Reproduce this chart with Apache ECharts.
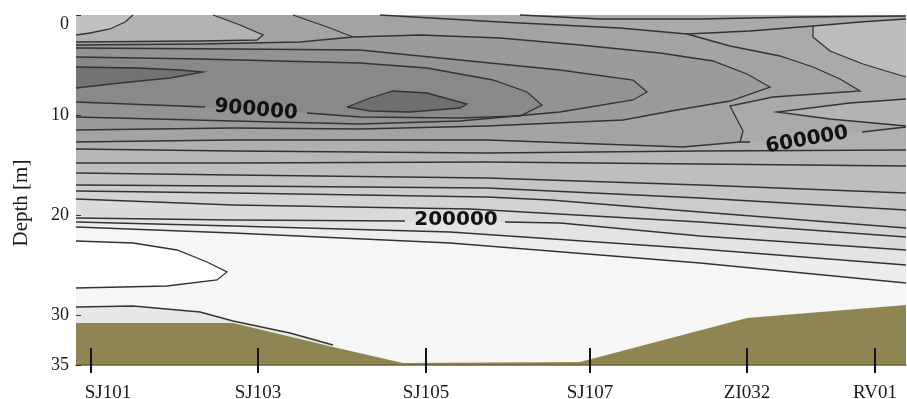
<!DOCTYPE html>
<html>
<head>
<meta charset="utf-8">
<script src="https://cdn.jsdelivr.net/npm/echarts@6/dist/echarts.min.js"></script>
<style>
  html, body { margin: 0; padding: 0; background: #fff; }
  #chart { width: 907px; height: 399px; }
</style>
</head>
<body>
<div id="chart"></div>
<script>
// Transect: distance along section (km) vs depth (m)
const stationNames = ['SJ101', 'SJ103', 'SJ105', 'SJ107', 'ZI032', 'RV01'];
const stationDist = [1.5, 18.2, 35.0, 51.4, 67.1, 79.9];
const depthTicks = [0, 10, 20, 30, 35];

const z1 = [[0, 21.2], [15.7, 21.8], [37.4, 22.8], [62.4, 24.8], [83, 26.8]];
const z2 = [[0, 20.7], [15.7, 21.1], [37.4, 21.7], [62.4, 23.4], [83, 25.0]];
const z3 = [[0, 20.3], [15.7, 20.5], [32.9, 20.6], null, [42.9, 20.7], [48.4, 20.8], [62.4, 22.1], [83, 23.5]];
const z4 = [[0, 18.4], [15.7, 19.0], [39.4, 19.4], [62.4, 20.7], [83, 22.2]];
const m1 = [[0, 17.6], [15.7, 17.8], [41.1, 18.2], [47.4, 18.5], [62.4, 19.7], [83, 21.3]];
const m2 = [[0, 17.0], [15.7, 17.1], [41.1, 17.3], [62.4, 18.3], [83, 19.5]];
const m3 = [[0, 15.8], [15.7, 16.0], [41.1, 16.3], [62.4, 17.0], [83, 17.8]];
const m4 = [[0, 14.8], [15.7, 14.8], [41.1, 14.7], [62.4, 14.9], [83, 15.1]];
const m5 = [[0, 13.4], [15.7, 13.6], [41.1, 13.8], [62.4, 13.6], [83, 13.5]];
const m6 = [[0, 12.7], [15.7, 12.5], [41.1, 12.5], [60.7, 13.2], [66.4, 12.7], [67.4, 12.7], null, [78.6, 11.7], [83, 11.2]];

const tongueA = [[30.4, 0], [42.4, 0.7], [54.4, 1.3], [61.1, 1.9], [65.4, 3.1], [70.4, 4.1], [73.7, 5.2],
  [76.4, 6.4], [78.4, 7.6], [69.7, 8.2], [65.4, 9.1], [66.7, 11.6], [66.4, 12.7]];
const surfU2 = [[61.1, 1.9], [67.4, 1.6], [73.7, 1.1]];
const surfU3 = [[44.4, 0], [52.4, 0.4], [62.4, 0.4], [72.4, 0.2], [83, 0.1]];
const trLow = [[73.7, 1.1], [73.7, 2.2], [75.4, 3.6], [78.7, 4.9], [83, 6.2]];
const trTop = [[73.7, 1.1], [78.4, 0.7], [83, 0.4]];
const rightLens = [[83, 8.4], [77.4, 8.8], [70.1, 9.7], [75.4, 10.4], [83, 11.1]];

const t1 = [[5.7, 0], [4.9, 0.7], [3.4, 1.4], [1.4, 1.8], [0, 2.0]];
const t2 = [[13.7, 0], [16.4, 1.0], [18.7, 2.0], [18.1, 2.5], [12.4, 2.6], [0, 2.7]];
const t3 = [[21.7, 0], [25.4, 1.3], [27.7, 2.2]];

const ringB = [[0, 3.0], [12.4, 2.9], [22.4, 2.7], [27.7, 2.2], [34.4, 2.0], [42.4, 2.3], [50.4, 3.0], [58.4, 3.8],
  [63.7, 4.6], [67.1, 5.9], [69.4, 7.2], [65.4, 8.6], [60.1, 9.5], [54.7, 10.5], [41.1, 11.1], [28.4, 11.4],
  [15.7, 11.3], [0, 11.5]];
const ringC = [[0, 3.3], [15.7, 3.4], [28.4, 3.5], [38.4, 4.5], [48.4, 5.5], [55.7, 6.5], [57.1, 7.7], [55.7, 8.5],
  [48.4, 9.7], [38.4, 10.6], [28.4, 10.9], [15.7, 10.6], [0, 10.2]];
const ringD = [[0, 4.2], [12.4, 4.4], [28.4, 4.8], [35.1, 5.3], [41.7, 6.5], [45.1, 7.7], [46.6, 9.0], [44.4, 10.1],
  [38.4, 10.3], [28.4, 10.2], [23.1, 9.8], null, [12.9, 9.2], [0, 8.7]];
const lensLeft = [[0, 5.2], [6.1, 5.3], [10.4, 5.5], [12.7, 5.7], [9.4, 6.3], [4.4, 6.8], [0, 7.3]];
const lensCore = [[27.1, 9.2], [29.4, 8.3], [31.7, 7.6], [35.1, 7.8], [39.1, 8.9], [38.4, 9.3], [33.4, 9.7],
  [29.4, 9.6], [27.1, 9.2]];

const whiteLens = [[0, 22.6], [5.7, 22.8], [10.1, 23.5], [13.1, 24.7], [15.1, 25.7], [14.1, 26.5], [9.1, 27.1], [0, 27.3]];
const bottomLine = [[0, 29.2], [5.7, 29.1], [12.4, 29.7], [15.7, 30.6], [21.4, 31.8], [25.7, 33.0]];
const seabed = [[0, 30.8], [15.7, 30.8], [25.7, 33.2], [32.7, 34.8], [50.4, 34.7], [67.1, 30.3], [83, 29.0]];

const labelPos = [[18.0, 9.5], [73.1, 12.5], [38.0, 20.5]];
const labelText = ['900000', '600000', '200000'];

// --- build drawing layers from the arrays above ---
const X_MAX = 83, D_MAX = 35;
const solid = line => line.filter(p => p);
const above = line => solid(line).concat([[X_MAX, 0], [0, 0]]);
const pieces = line => {
  const out = [[]];
  line.forEach(p => { if (p) out[out.length - 1].push(p); else out.push([]); });
  return out.filter(s => s.length > 1);
};

const tongueFill = [[0, 0]].concat(tongueA, m6.slice(0, 4).reverse());

const fills = [
  [above(z1), '#ededed'],
  [above(z2), '#e4e4e4'],
  [above(z3), '#dbdbdb'],
  [above(z4), '#d3d3d3'],
  [above(m1), '#cccccc'],
  [above(m2), '#c5c5c5'],
  [above(m3), '#bebebe'],
  [above(m4), '#b7b7b7'],
  [above(m5), '#b0b0b0'],
  [above(m6), '#aaaaaa'],
  [trLow.concat(trTop.slice(1).reverse()), '#bcbcbc'],
  [rightLens, '#b4b4b4'],
  [tongueFill, '#a3a3a3'],
  [t2.concat([[0, 0]]), '#b3b3b3'],
  [t1.concat([[0, 0]]), '#c1c1c1'],
  [ringB, '#9b9b9b'],
  [ringC, '#939393'],
  [solid(ringD), '#898989'],
  [lensLeft, '#737373'],
  [lensCore, '#6f6f6f'],
  [whiteLens, '#ffffff'],
  [bottomLine.concat([[25.7, D_MAX], [0, D_MAX]]), '#e7e7e7'],
  [seabed.concat([[X_MAX, D_MAX], [0, D_MAX]]), '#8f8552']
];

const strokes = [z1, z2, z3, z4, m1, m2, m3, m4, m5, m6, tongueA, surfU2, surfU3, trLow, trTop, rightLens,
  t1, t2, t3, ringB, ringC, ringD, lensLeft, lensCore, whiteLens, bottomLine].flatMap(pieces);

const labelAngle = [-5, 10, 0];
const serif = 'Liberation Serif';

const chart = echarts.init(document.getElementById('chart'));

chart.setOption({
  animation: false,
  backgroundColor: '#fff',
  grid: {
    left: 76, right: 1, top: 15, bottom: 34,
    show: true, backgroundColor: '#f6f6f6', borderWidth: 0,
    outerBoundsMode: 'none'
  },
  xAxis: {
    type: 'value', min: 0, max: X_MAX, z: 10,
    axisLine: { show: true, onZero: false, lineStyle: { color: '#6e6530', width: 1.5 } },
    axisTick: { show: false },
    splitLine: { show: false },
    axisLabel: {
      customValues: stationDist,
      margin: 19,
      fontFamily: serif, fontSize: 19, color: '#1a1a1a',
      formatter: v => {
        const i = stationDist.indexOf(v);
        return i === 0 ? '{first|' + stationNames[i] + '}' : stationNames[i];
      },
      rich: { first: { padding: [0, 0, 0, 34], fontFamily: serif, fontSize: 19, color: '#1a1a1a' } }
    }
  },
  yAxis: {
    type: 'value', inverse: true, min: 0, max: D_MAX, z: 10,
    name: 'Depth [m]', nameLocation: 'middle', nameGap: 44, nameRotate: 90,
    nameTextStyle: { fontFamily: serif, fontSize: 21, color: '#1a1a1a', padding: [0, 26, 0, 0] },
    axisLine: { show: false },
    axisTick: { show: true, inside: true, length: 5, customValues: depthTicks, lineStyle: { color: '#333' } },
    splitLine: { show: false },
    axisLabel: {
      customValues: depthTicks,
      margin: 7,
      fontFamily: serif, fontSize: 18, color: '#1a1a1a',
      formatter: v => (v === 0 ? '{z|0}' : String(v)),
      rich: { z: { padding: [19, 0, 0, 0], fontFamily: serif, fontSize: 18, color: '#1a1a1a' } }
    }
  },
  series: [
    {
      // filled contour bands, painted outermost first
      type: 'custom', silent: true,
      data: fills.map((f, i) => [i, 0]),
      renderItem: (params, api) => {
        const [pts, color] = fills[params.dataIndex];
        return {
          type: 'polygon',
          shape: { points: pts.map(p => api.coord(p)) },
          style: { fill: color }
        };
      }
    },
    {
      // contour lines
      type: 'custom', silent: true,
      data: strokes.map((s, i) => [i, 0]),
      renderItem: (params, api) => ({
        type: 'polyline',
        shape: { points: strokes[params.dataIndex].map(p => api.coord(p)) },
        style: { stroke: '#333', lineWidth: 1.3, fill: null }
      })
    },
    {
      // contour value labels
      type: 'custom', silent: true,
      data: labelPos,
      renderItem: (params, api) => {
        const p = api.coord(labelPos[params.dataIndex]);
        return {
          type: 'text',
          x: p[0], y: p[1],
          rotation: labelAngle[params.dataIndex] * Math.PI / 180,
          style: {
            text: labelText[params.dataIndex],
            fontFamily: 'DejaVu Sans', fontWeight: 'bold', fontSize: 20,
            fill: '#111', align: 'center', verticalAlign: 'middle'
          }
        };
      }
    },
    {
      // station markers across the bottom edge
      type: 'custom', silent: true, z: 12,
      data: stationDist.map(d => [d, D_MAX]),
      renderItem: (params, api) => {
        const p = api.coord([stationDist[params.dataIndex], D_MAX]);
        return {
          type: 'line',
          shape: { x1: p[0], y1: p[1] - 17, x2: p[0], y2: p[1] + 8 },
          style: { stroke: '#111', lineWidth: 2 }
        };
      }
    }
  ]
});

window.addEventListener('resize', () => chart.resize());
</script>
</body>
</html>
